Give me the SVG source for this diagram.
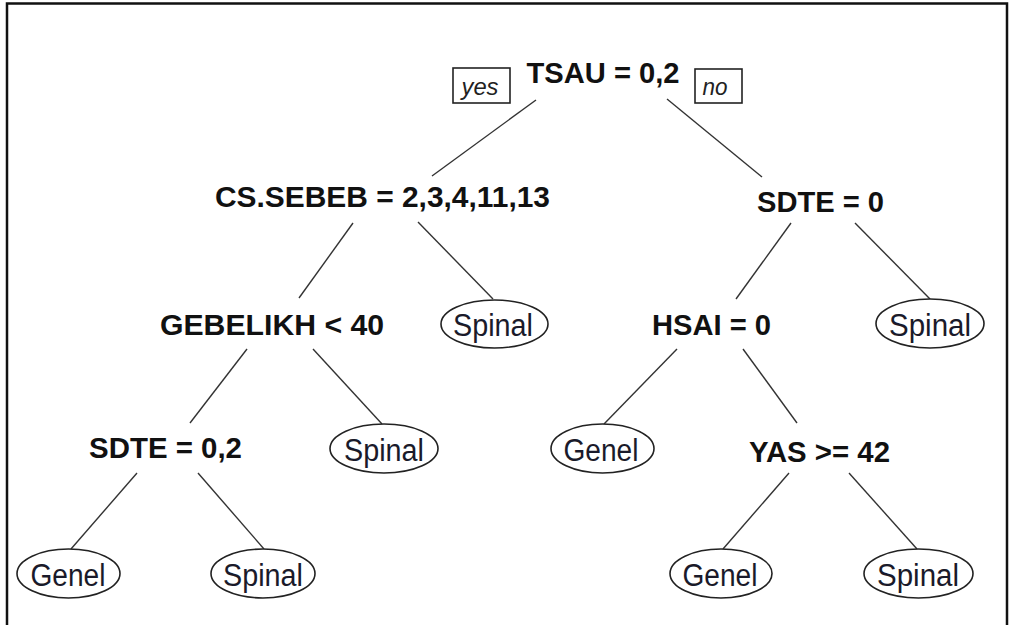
<svg xmlns="http://www.w3.org/2000/svg" width="1009" height="625" viewBox="0 0 1009 625">
<style>
.split{font-family:"Liberation Sans",Arial,sans-serif;font-weight:bold;font-size:29px;fill:#111;text-anchor:middle}
.leaf{font-family:"Liberation Sans",Arial,sans-serif;font-size:31px;fill:#1a1a2a;text-anchor:middle}
.lab{font-family:"Liberation Sans",Arial,sans-serif;font-style:italic;font-size:24px;fill:#222;text-anchor:middle}
.ell{fill:#fff;stroke:#222;stroke-width:1.6}
.box{fill:#fff;stroke:#222;stroke-width:1.6}
.edges line{stroke:#333;stroke-width:1.4}
</style>
<rect x="0" y="0" width="1009" height="625" fill="#fff"/>
<path d="M7,630 V3.5 H1007 V630" fill="none" stroke="#111" stroke-width="2.5"/>
<g class="edges" id="connectors">
<line x1="536" y1="100" x2="432" y2="176"/>
<line x1="667" y1="99" x2="762" y2="177"/>
<line x1="353" y1="223" x2="299" y2="298"/>
<line x1="418" y1="222" x2="493" y2="299"/>
<line x1="791" y1="223" x2="736" y2="299"/>
<line x1="855" y1="223" x2="930" y2="299"/>
<line x1="247" y1="349" x2="190" y2="423"/>
<line x1="313" y1="349" x2="382" y2="424"/>
<line x1="677" y1="349" x2="604" y2="424"/>
<line x1="743" y1="349" x2="797" y2="423"/>
<line x1="137" y1="473" x2="71" y2="549"/>
<line x1="198" y1="473" x2="264" y2="549"/>
<line x1="789" y1="473" x2="723" y2="549"/>
<line x1="849" y1="473" x2="917" y2="549"/>
</g>
<g id="root">
<text class="split" x="603" y="83" textLength="153" lengthAdjust="spacingAndGlyphs">TSAU = 0,2</text>
</g>
<g id="label-yes">
<rect class="box" x="453" y="68" width="57" height="35"/>
<text class="lab" x="480" y="95" textLength="37" lengthAdjust="spacingAndGlyphs">yes</text>
</g>
<g id="label-no">
<rect class="box" x="695" y="69" width="47" height="34"/>
<text class="lab" x="715" y="95" textLength="25" lengthAdjust="spacingAndGlyphs">no</text>
</g>
<g id="n-cssebeb">
<text class="split" x="382.5" y="207" textLength="335" lengthAdjust="spacingAndGlyphs">CS.SEBEB = 2,3,4,11,13</text>
</g>
<g id="n-sdte0">
<text class="split" x="820.5" y="212" textLength="127" lengthAdjust="spacingAndGlyphs">SDTE = 0</text>
</g>
<g id="n-gebelikh">
<text class="split" x="272" y="335" textLength="224" lengthAdjust="spacingAndGlyphs">GEBELIKH &lt; 40</text>
</g>
<g id="leaf-spinal-1">
<ellipse class="ell" cx="494.5" cy="324" rx="53.5" ry="24"/>
<text class="leaf" x="493" y="336" textLength="80" lengthAdjust="spacingAndGlyphs">Spinal</text>
</g>
<g id="n-hsai">
<text class="split" x="711.5" y="335" textLength="119" lengthAdjust="spacingAndGlyphs">HSAI = 0</text>
</g>
<g id="leaf-spinal-2">
<ellipse class="ell" cx="930" cy="323.5" rx="54" ry="24.5"/>
<text class="leaf" x="930" y="336" textLength="82" lengthAdjust="spacingAndGlyphs">Spinal</text>
</g>
<g id="n-sdte02">
<text class="split" x="165.5" y="458" textLength="153" lengthAdjust="spacingAndGlyphs">SDTE = 0,2</text>
</g>
<g id="leaf-spinal-3">
<ellipse class="ell" cx="384" cy="448.5" rx="54" ry="24.5"/>
<text class="leaf" x="384" y="461" textLength="80" lengthAdjust="spacingAndGlyphs">Spinal</text>
</g>
<g id="leaf-genel-1">
<ellipse class="ell" cx="602.5" cy="448.5" rx="51.5" ry="24.5"/>
<text class="leaf" x="601" y="461" textLength="75" lengthAdjust="spacingAndGlyphs">Genel</text>
</g>
<g id="n-yas">
<text class="split" x="819.5" y="462" textLength="141" lengthAdjust="spacingAndGlyphs">YAS &gt;= 42</text>
</g>
<g id="leaf-genel-2">
<ellipse class="ell" cx="68.5" cy="573.5" rx="51.5" ry="24.5"/>
<text class="leaf" x="68" y="586" textLength="75" lengthAdjust="spacingAndGlyphs">Genel</text>
</g>
<g id="leaf-spinal-4">
<ellipse class="ell" cx="263" cy="573.5" rx="52" ry="24.5"/>
<text class="leaf" x="263" y="586" textLength="80" lengthAdjust="spacingAndGlyphs">Spinal</text>
</g>
<g id="leaf-genel-3">
<ellipse class="ell" cx="721" cy="573.5" rx="51" ry="24.5"/>
<text class="leaf" x="720" y="586" textLength="75" lengthAdjust="spacingAndGlyphs">Genel</text>
</g>
<g id="leaf-spinal-5">
<ellipse class="ell" cx="918.5" cy="573.5" rx="54.5" ry="24.5"/>
<text class="leaf" x="918" y="586" textLength="82" lengthAdjust="spacingAndGlyphs">Spinal</text>
</g>
</svg>
